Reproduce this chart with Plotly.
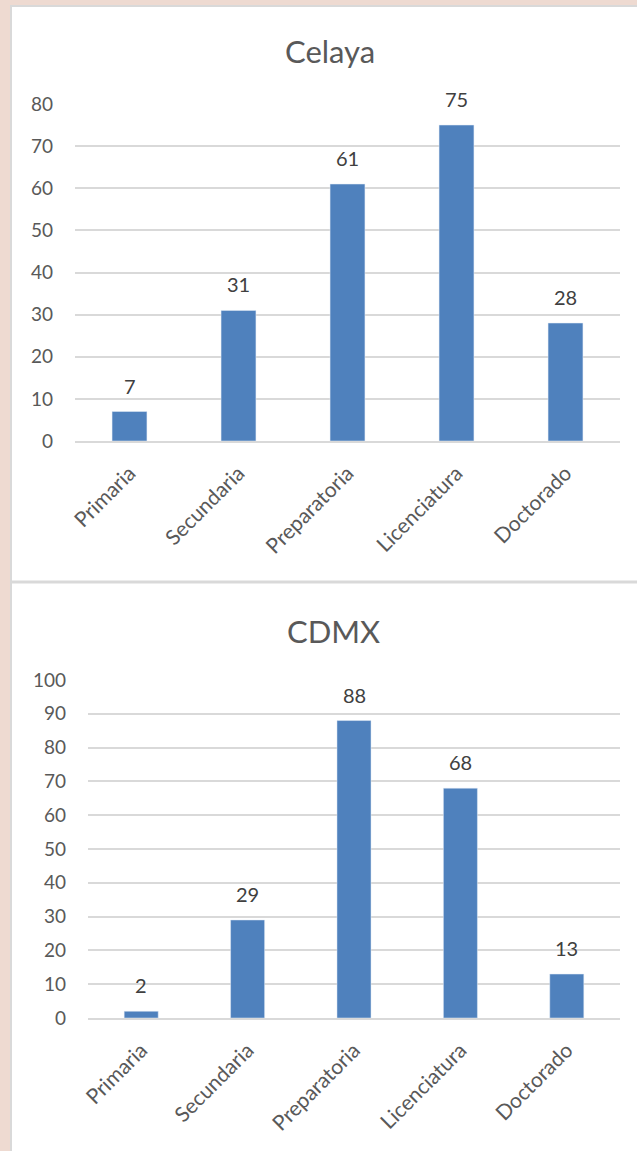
import plotly.graph_objects as go

categories = ["Primaria", "Secundaria", "Preparatoria", "Licenciatura", "Doctorado"]
celaya_values = [7, 31, 61, 75, 28]
cdmx_values = [2, 29, 88, 68, 13]
celaya_ticks = [0, 10, 20, 30, 40, 50, 60, 70, 80]
cdmx_ticks = [0, 10, 20, 30, 40, 50, 60, 70, 80, 90, 100]
titles = ["Celaya", "CDMX"]

W, H = 637, 1151
FONT = "Lato, Carlito, Calibri, sans-serif"
BAR = "#4f81bd"
TXT = "#595959"
GRID = "#d9d9d9"

def px(x):
    return x / W

def py(y):
    return 1 - y / H

fig = go.Figure()
fig.add_trace(go.Bar(x=categories, y=celaya_values, marker_color=BAR, width=0.32,
                     xaxis="x", yaxis="y", showlegend=False, hoverinfo="skip"))
fig.add_trace(go.Bar(x=categories, y=cdmx_values, marker_color=BAR, width=0.32,
                     xaxis="x2", yaxis="y2", showlegend=False, hoverinfo="skip"))

annotations = []
for xref, yref, vals in (("x", "y", celaya_values), ("x2", "y2", cdmx_values)):
    for c, v in zip(categories, vals):
        annotations.append(dict(x=c, y=v, xref=xref, yref=yref, text=str(v),
                                showarrow=False, yanchor="bottom", yshift=12,
                                font=dict(family=FONT, size=20, color="#404040")))
annotations.append(dict(x=px(330), y=py(51), xref="paper", yref="paper", text=titles[0],
                        showarrow=False, xanchor="center", yanchor="middle",
                        font=dict(family=FONT, size=31, color=TXT)))
annotations.append(dict(x=px(333), y=py(631), xref="paper", yref="paper", text=titles[1],
                        showarrow=False, xanchor="center", yanchor="middle",
                        font=dict(family=FONT, size=31, color=TXT)))

shapes = [
    dict(type="rect", xref="paper", yref="paper", x0=0, x1=1, y0=0, y1=1,
         fillcolor="#eedad1", line=dict(width=0), layer="below"),
    dict(type="rect", xref="paper", yref="paper", x0=px(11), x1=1.01, y0=-0.01, y1=py(6),
         fillcolor="white", line=dict(color=GRID, width=2), layer="below"),
    dict(type="line", xref="paper", yref="paper", x0=px(11), x1=1, y0=py(582), y1=py(582),
         line=dict(color=GRID, width=3), layer="below"),
]

ytick = dict(tickfont=dict(family=FONT, size=19, color=TXT))
xtick = dict(tickfont=dict(family=FONT, size=21, color=TXT))

fig.update_layout(
    width=W, height=H, margin=dict(l=0, r=0, t=0, b=0, autoexpand=False),
    paper_bgcolor="#eedad1", plot_bgcolor="rgba(0,0,0,0)",
    xaxis=dict(domain=[px(75), px(620)], anchor="y", tickangle=-45, showgrid=False,
               showline=True, linecolor=GRID, linewidth=1.5, ticks="", ticklabelstandoff=10,
               automargin=False, **xtick),
    yaxis=dict(domain=[py(441), py(104)], anchor="x", range=[0, 80], tickvals=celaya_ticks,
               showgrid=True, gridcolor=GRID, gridwidth=1.5, zeroline=False, showline=False,
               ticklabelstandoff=21, automargin=False, **ytick),
    xaxis2=dict(domain=[px(88), px(620)], anchor="y2", tickangle=-45, showgrid=False,
                showline=True, linecolor=GRID, linewidth=1.5, ticks="", ticklabelstandoff=10,
                automargin=False, **xtick),
    yaxis2=dict(domain=[py(1018), py(680)], anchor="x2", range=[0, 100], tickvals=cdmx_ticks,
                showgrid=True, gridcolor=GRID, gridwidth=1.5, zeroline=False, showline=False,
                ticklabelstandoff=21, automargin=False, **ytick),
    annotations=annotations,
    shapes=shapes,
)

fig.write_html("out.html")
